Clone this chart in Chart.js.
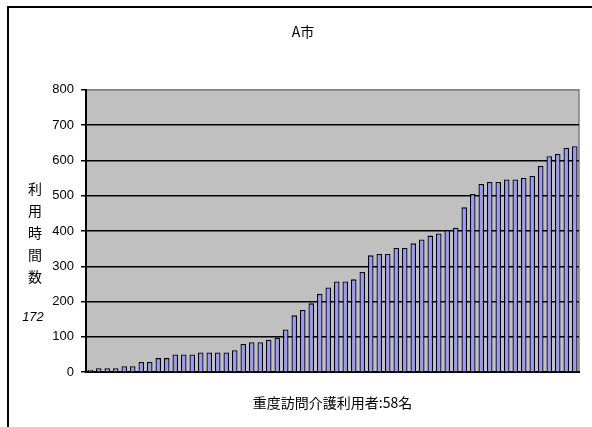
<!DOCTYPE html>
<html lang="ja">

<head>
    <meta charset="UTF-8" />
    <title>A市</title>
    <script src="https://cdn.jsdelivr.net/npm/chart.js"></script>
    <style>
        body { margin: 0; width: 592px; height: 427px; overflow: hidden; position: relative; background: #fff; font-family: 'Noto Sans CJK JP', sans-serif; }
        #frame { position: absolute; left: 7px; top: 6px; width: 620px; height: 440px; border-left: 2px solid #000; border-top: 2px solid #000; }
        #chart { position: absolute; left: 0; top: 0; }
        #ylabel { position: absolute; left: 25px; top: 177px; width: 20px; text-align: center; font-size: 14px; line-height: 22px; color: #000; }
        #ynote { position: absolute; left: 18px; top: 306px; width: 30px; text-align: center; font: italic 13px 'Liberation Sans', sans-serif; line-height: 22px; color: #000; }
    </style>
</head>

<body>
    <div id="frame"></div>
    <canvas id="chart" width="606" height="427"></canvas>
    <div id="ylabel">利<br>用<br>時<br>間<br>数</div>
    <div id="ynote">172</div>

    <script>
        // one bar per user, sorted by hours
        const users = [1, 2, 3, 4, 5, 6, 7, 8, 9, 10, 11, 12, 13, 14, 15, 16, 17, 18, 19, 20,
            21, 22, 23, 24, 25, 26, 27, 28, 29, 30, 31, 32, 33, 34, 35, 36, 37, 38, 39, 40,
            41, 42, 43, 44, 45, 46, 47, 48, 49, 50, 51, 52, 53, 54, 55, 56, 57, 58];
        const hours = [7, 11, 11, 11, 17, 17, 29, 29, 40, 40, 50, 50, 50, 56, 56, 56, 56, 62, 80, 85,
            85, 92, 98, 121, 161, 176, 195, 222, 240, 257, 257, 263, 284, 331, 335, 335, 352, 352, 365, 376,
            387, 393, 402, 409, 467, 505, 533, 539, 539, 546, 546, 550, 556, 584, 612, 618, 635, 640];
        const yMin = 0;
        const yMax = 800;
        const yStep = 100;

        const titleText = 'A市';
        const xTitle = '重度訪問介護利用者:58名';

        // grey plot area like the spreadsheet chart
        const plotBackground = {
            id: 'plotBackground',
            beforeDraw(chart) {
                const { ctx, chartArea: a } = chart;
                ctx.save();
                ctx.fillStyle = '#c0c0c0';
                ctx.fillRect(a.left, a.top, a.right - a.left, a.bottom - a.top);
                ctx.strokeStyle = '#808080';
                ctx.lineWidth = 1.5;
                ctx.strokeRect(a.left, a.top, a.right - a.left, a.bottom - a.top);
                ctx.restore();
            }
        };

        const ctx = document.getElementById('chart').getContext('2d');
        new Chart(ctx, {
            type: 'bar',
            data: {
                labels: users,
                datasets: [{
                    data: hours,
                    backgroundColor: '#9999ff',
                    borderColor: '#000',
                    borderWidth: 1.3,
                    barPercentage: 0.65,
                    categoryPercentage: 1
                }]
            },
            options: {
                responsive: false,
                animation: false,
                devicePixelRatio: 1,
                layout: { padding: { left: 27, right: 27, top: 0, bottom: 16 } },
                plugins: {
                    legend: { display: false },
                    tooltip: { enabled: false },
                    title: {
                        display: true,
                        text: titleText,
                        color: '#000',
                        font: { family: "'Noto Sans CJK JP', sans-serif", size: 14, weight: 'normal' },
                        padding: { top: 23, bottom: 50 }
                    }
                },
                scales: {
                    x: {
                        ticks: { display: false },
                        grid: { display: false, drawTicks: false },
                        border: { color: '#000', width: 2 },
                        title: {
                            display: true,
                            text: xTitle,
                            color: '#000',
                            font: { family: "'Noto Sans CJK JP', sans-serif", size: 14 },
                            padding: { top: 22, bottom: 0 }
                        }
                    },
                    y: {
                        min: yMin,
                        max: yMax,
                        afterFit(scale) { scale.width = 59; },
                        ticks: {
                            stepSize: yStep,
                            color: '#000',
                            padding: 7,
                            font: { family: "'Liberation Sans', sans-serif", size: 13 }
                        },
                        grid: {
                            color: c => (c.tick && c.tick.value === yMax) ? '#808080' : '#000',
                            lineWidth: 1.5,
                            tickLength: 5,
                            tickColor: '#000',
                            tickWidth: 1.5
                        },
                        border: { color: '#000', width: 2 }
                    }
                }
            },
            plugins: [plotBackground]
        });
    </script>
</body>

</html>
